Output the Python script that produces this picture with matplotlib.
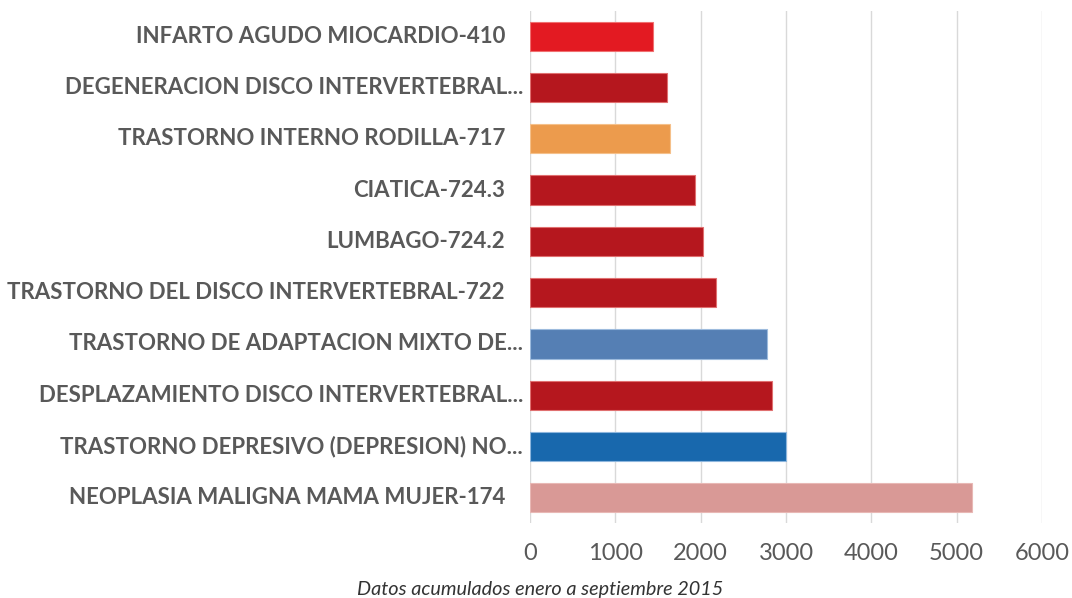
import matplotlib
matplotlib.use("Agg")
import matplotlib.pyplot as plt
import matplotlib.transforms as mtransforms

categories = [
    "INFARTO AGUDO MIOCARDIO-410",
    "DEGENERACION DISCO INTERVERTEBRAL...",
    "TRASTORNO INTERNO RODILLA-717",
    "CIATICA-724.3",
    "LUMBAGO-724.2",
    "TRASTORNO DEL DISCO INTERVERTEBRAL-722",
    "TRASTORNO DE ADAPTACION MIXTO DE...",
    "DESPLAZAMIENTO DISCO INTERVERTEBRAL...",
    "TRASTORNO DEPRESIVO (DEPRESION) NO...",
    "NEOPLASIA MALIGNA MAMA MUJER-174",
]
values = [1445, 1610, 1635, 1935, 2030, 2180, 2775, 2835, 3000, 5180]
colors = ["#E31A22", "#B5171E", "#EC9B4D", "#B5171E", "#B5171E",
          "#B5171E", "#557FB4", "#B5171E", "#1868AD", "#D99996"]
edges = ["#F07070", "#E07070", "#F5C08A", "#E07070", "#E07070",
         "#E07070", "#9DBBDD", "#E07070", "#8DB6DD", "#E8B8B5"]
xticks = [0, 1000, 2000, 3000, 4000, 5000, 6000]
caption = "Datos acumulados enero a septiembre 2015"

fig = plt.figure(figsize=(10.72, 5.98), dpi=100)
ax = fig.add_axes([0.4944, 0.1246, 0.9720 - 0.4944, 0.9824 - 0.1246])

pos = list(range(len(categories)))
ax.barh(pos, values, height=0.57, color=colors, edgecolor=edges, linewidth=0.8, zorder=3)
ax.set_ylim(len(categories) - 0.5, -0.5)
ax.set_xlim(0, 6000)
ax.set_xticks(xticks)
ax.set_xticklabels([str(t) for t in xticks], fontsize=17, color="#595959", family="Lato")
ax.tick_params(axis="x", length=0, pad=14)
ax.set_yticks([])
ax.grid(axis="x", color="#D9D9D9", linewidth=1.0, zorder=0)
for s in ax.spines.values():
    s.set_visible(False)

trans = mtransforms.blended_transform_factory(ax.transAxes, ax.transData)
for i, lab in enumerate(categories):
    off = -5 if lab.endswith("...") else -18
    ax.annotate(lab, xy=(0, i), xycoords=trans, xytext=(off, 0), textcoords="offset points",
                ha="right", va="center", fontsize=16, fontweight="bold",
                color="#595959", family="Lato")

fig.text(0.504, 0.015, caption, ha="center", va="center", fontsize=14.3,
         style="italic", color="#333333", family="Lato")

fig.savefig("out.png", dpi=100, facecolor="white")
